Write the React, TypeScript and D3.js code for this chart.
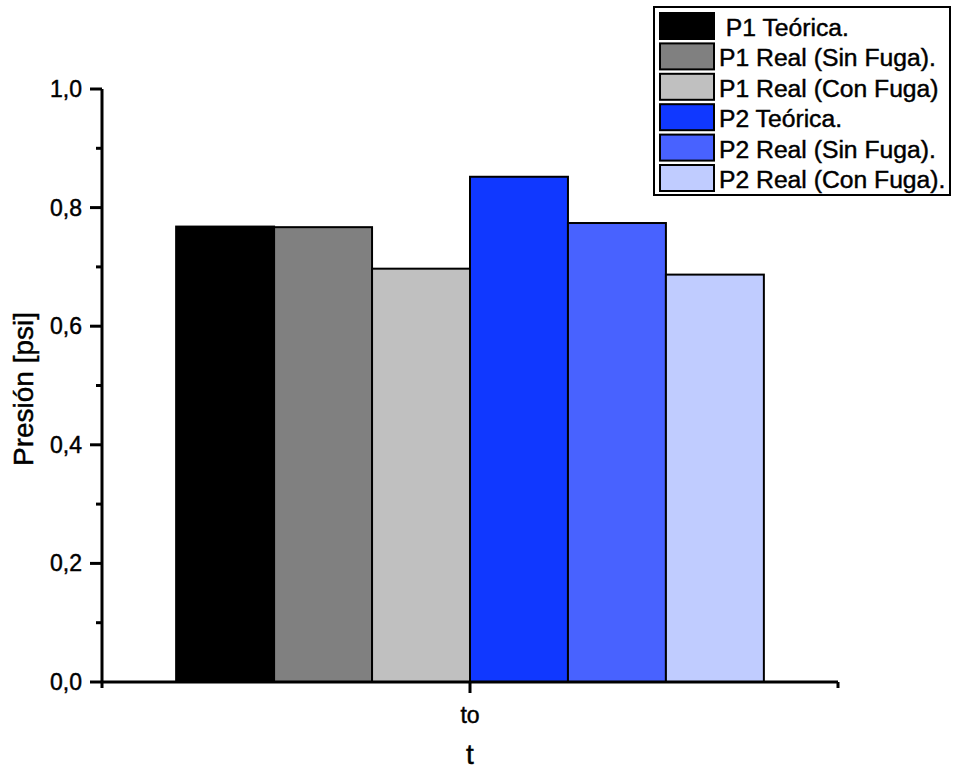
import React from "react";
import * as d3 from "d3";

// Pressure readings at t = to, one bar per series
const categories = ["to"];
const seriesNames = [
  " P1 Teórica.",
  "P1 Real (Sin Fuga).",
  "P1 Real (Con Fuga)",
  "P2 Teórica.",
  "P2 Real (Sin Fuga).",
  "P2 Real (Con Fuga).",
];
const seriesValues = [0.768, 0.767, 0.697, 0.852, 0.774, 0.687];
const seriesColors = ["#000000", "#808080", "#c0c0c0", "#1038ff", "#4862ff", "#c0ccff"];
const majorTicks = [0, 0.2, 0.4, 0.6, 0.8, 1.0];
const minorTicks = [0.1, 0.3, 0.5, 0.7, 0.9];

const W = 953;
const H = 769;
const FONT = "'Liberation Sans', Arial, Helvetica, sans-serif";
// slight outline so glyphs read as heavy as the axis lines
const textInk = { fill: "#000", stroke: "#000", strokeWidth: 0.45 };

export default function App() {
  const plotLeft = 102;
  const plotRight = 838;
  const y = d3.scaleLinear().domain([0, 1]).range([682, 89]);
  const x = d3.scaleBand().domain(categories).range([plotLeft, plotRight]).padding(0.112);
  const inner = d3
    .scaleBand()
    .domain(seriesNames)
    .range([0, x.bandwidth()]);
  const fmt = (v: number) => d3.format(".1f")(v).replace(".", ",");
  const y0 = y(0);

  const legX = 654;
  const legY = 7;
  const legW = 296;
  const legH = 188;
  const rowStep = 30.4;

  return (
    <svg
      width={W}
      height={H}
      style={{ position: "absolute", left: 0, top: 0, background: "#fff" }}
      fontFamily={FONT}
    >
      {/* bars */}
      {categories.map((c) => (
        <g key={c} transform={`translate(${x(c)},0)`}>
          {seriesNames.map((s, i) => (
            <rect
              key={s}
              x={inner(s)}
              y={y(seriesValues[i])}
              width={inner.bandwidth()}
              height={y0 - y(seriesValues[i])}
              fill={seriesColors[i]}
              stroke="#000"
              strokeWidth={2}
            />
          ))}
        </g>
      ))}

      {/* y axis */}
      <line x1={plotLeft} x2={plotLeft} y1={y(1)} y2={y0 + 6} stroke="#000" strokeWidth={3} />
      {majorTicks.map((t) => (
        <g key={t}>
          <line x1={plotLeft - 12} x2={plotLeft} y1={y(t)} y2={y(t)} stroke="#000" strokeWidth={3} />
          <text x={plotLeft - 20} y={y(t) + 8} textAnchor="end" fontSize={23} {...textInk}>
            {fmt(t)}
          </text>
        </g>
      ))}
      {minorTicks.map((t) => (
        <line key={t} x1={plotLeft - 6} x2={plotLeft} y1={y(t)} y2={y(t)} stroke="#000" strokeWidth={3} />
      ))}
      <text
        transform={`translate(33,${389}) rotate(-90)`}
        textAnchor="middle"
        fontSize={28}
        {...textInk}
      >
        Presión [psi]
      </text>

      {/* x axis */}
      <line x1={plotLeft} x2={plotRight} y1={y0} y2={y0} stroke="#000" strokeWidth={3} />
      <line x1={plotRight} x2={plotRight} y1={y0} y2={y0 + 6} stroke="#000" strokeWidth={3} />
      {categories.map((c) => {
        const cx = (x(c) as number) + x.bandwidth() / 2;
        return (
          <g key={c}>
            <line x1={cx} x2={cx} y1={y0} y2={y0 + 11} stroke="#000" strokeWidth={3} />
            <text x={cx} y={723} textAnchor="middle" fontSize={23} {...textInk}>
              {c}
            </text>
          </g>
        );
      })}
      <text x={(plotLeft + plotRight) / 2} y={764} textAnchor="middle" fontSize={28} {...textInk}>
        t
      </text>

      {/* legend */}
      <rect x={legX} y={legY} width={legW} height={legH} fill="#fff" stroke="#000" strokeWidth={2} />
      {seriesNames.map((s, i) => {
        const top = 13 + i * rowStep;
        return (
          <g key={s}>
            <rect
              x={660}
              y={top}
              width={54}
              height={26}
              fill={seriesColors[i]}
              stroke="#000"
              strokeWidth={2}
            />
            <text x={719} y={top + 23} fontSize={24.7} style={{ whiteSpace: "pre" }} {...textInk}>
              {s}
            </text>
          </g>
        );
      })}
    </svg>
  );
}
